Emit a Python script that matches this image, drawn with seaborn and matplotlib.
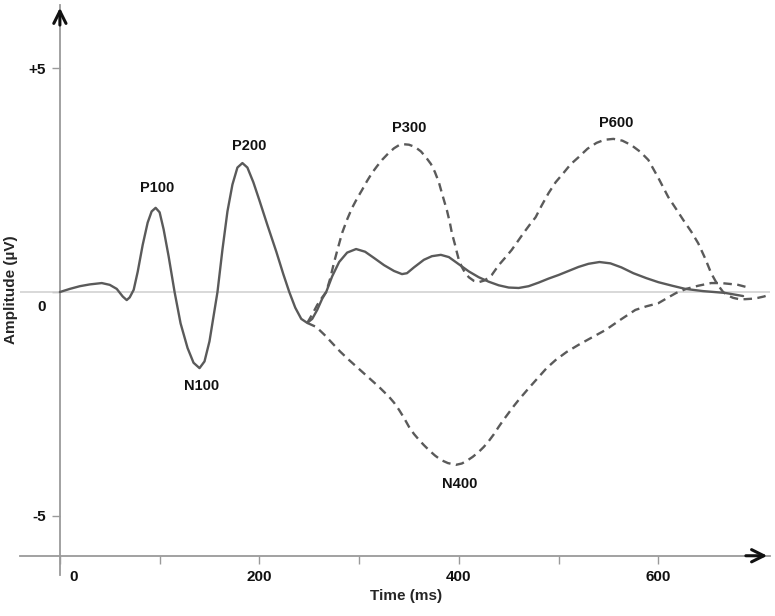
import numpy as np
import pandas as pd
import matplotlib
matplotlib.use("Agg")
import matplotlib.pyplot as plt
import matplotlib.transforms as mtransforms
import seaborn as sns

# ==========================================
# Data (time in ms, amplitude in microvolts)
# ==========================================

# standard ERP (solid)
erp_time = [0, 10, 20, 30, 42, 50, 57, 63, 67, 70, 74, 78, 83, 88, 92, 96,
            100, 104, 109, 115, 121, 128, 134, 140, 145, 150, 154, 158, 163,
            168, 173, 178, 183, 188, 194, 200, 208, 217, 224, 230, 236, 242,
            248, 253, 258, 263, 267, 273, 280, 288, 297, 306, 315, 325, 335,
            343, 348, 355, 365, 373, 382, 390, 400, 410, 420, 430, 440, 450,
            460, 470, 480, 490, 500, 510, 520, 530, 541, 552, 563, 575, 588,
            600, 614, 627, 645, 667, 685]
erp_amp = [0.0, 0.07, 0.13, 0.17, 0.20, 0.16, 0.07, -0.10, -0.18, -0.12,
           0.05, 0.45, 1.05, 1.55, 1.80, 1.88, 1.78, 1.40, 0.80, 0.0, -0.70,
           -1.25, -1.58, -1.70, -1.55, -1.10, -0.55, 0.0, 0.95, 1.80, 2.40,
           2.78, 2.88, 2.78, 2.45, 2.05, 1.50, 0.90, 0.40, 0.0, -0.35, -0.60,
           -0.69, -0.60, -0.40, -0.15, 0.0, 0.35, 0.67, 0.88, 0.96, 0.90,
           0.76, 0.60, 0.47, 0.40, 0.42, 0.55, 0.72, 0.80, 0.83, 0.78, 0.62,
           0.46, 0.33, 0.23, 0.15, 0.10, 0.09, 0.13, 0.21, 0.30, 0.38, 0.47,
           0.56, 0.63, 0.67, 0.64, 0.55, 0.42, 0.31, 0.22, 0.14, 0.07, 0.02,
           -0.02, -0.09]

# P300 / P600 (dashed, upper)
p3_time = [248, 253, 258, 263, 267, 271, 275, 279, 283, 288, 293, 298, 303,
           308, 313, 318, 323, 329, 335, 340, 345, 350, 356, 362, 367, 372,
           376, 380, 383, 386, 388, 391, 393, 396, 398, 400, 403, 406, 410,
           415, 420, 426, 433, 440, 447, 453, 459, 465, 471, 477, 483, 490,
           497, 505, 512, 520, 529, 538, 546, 555, 564, 573, 582, 590, 600,
           610, 618, 625, 633, 640, 647, 653, 659, 665, 670, 675, 681, 687,
           694, 700, 706, 710]
p3_amp = [-0.69, -0.50, -0.29, -0.12, 0.0, 0.30, 0.67, 1.00, 1.32, 1.62,
          1.88, 2.09, 2.28, 2.48, 2.66, 2.81, 2.95, 3.09, 3.21, 3.28, 3.30,
          3.29, 3.24, 3.14, 3.01, 2.86, 2.68, 2.45, 2.21, 1.98, 1.83, 1.55,
          1.32, 1.07, 0.89, 0.72, 0.56, 0.44, 0.33, 0.25, 0.22, 0.26, 0.38,
          0.60, 0.78, 0.94, 1.13, 1.32, 1.50, 1.67, 1.93, 2.21, 2.45, 2.66,
          2.85, 3.01, 3.20, 3.33, 3.40, 3.42, 3.38, 3.28, 3.13, 2.95, 2.55,
          2.12, 1.85, 1.61, 1.35, 1.09, 0.75, 0.42, 0.18, 0.0, -0.08, -0.13,
          -0.16, -0.16, -0.15, -0.13, -0.10, -0.07]

# N400 (dashed, lower)
n4_time = [248, 257, 265, 273, 281, 290, 300, 310, 320, 330, 335, 340, 345,
           350, 355, 360, 365, 370, 376, 382, 389, 397, 403, 408, 414, 420,
           425, 430, 435, 440, 445, 450, 455, 460, 470, 480, 488, 497, 508,
           520, 533, 547, 562, 577, 588, 600, 610, 618, 628, 640, 653, 663,
           672, 680, 692]
n4_amp = [-0.69, -0.78, -0.95, -1.14, -1.33, -1.52, -1.72, -1.92, -2.12,
          -2.34, -2.47, -2.63, -2.81, -3.01, -3.17, -3.30, -3.42, -3.53,
          -3.65, -3.75, -3.82, -3.86, -3.83, -3.77, -3.68, -3.57, -3.46,
          -3.33, -3.18, -3.01, -2.85, -2.70, -2.55, -2.41, -2.15, -1.90,
          -1.70, -1.52, -1.34, -1.18, -1.02, -0.85, -0.62, -0.40, -0.32,
          -0.25, -0.12, -0.02, 0.07, 0.14, 0.20, 0.20, 0.18, 0.16, 0.09]

peak_names = ["P100", "N100", "P200", "P300", "N400", "P600"]
peak_time = [97, 142, 190, 350, 401, 558]
peak_amp = [2.33, -2.09, 3.26, 3.67, -4.28, 3.78]

x_ticks = [0, 100, 200, 300, 400, 500, 600]
x_tick_labels = ["0", "", "200", "", "400", "", "600"]
y_ticks = [5, 0, -5]
y_tick_labels = ["+5", "0", "-5"]

# ==========================================
# Figure
# ==========================================

sns.set_style("white")
plt.rcParams["font.family"] = ["Liberation Sans", "DejaVu Sans"]

fig = plt.figure(figsize=(7.75, 6.16), dpi=100)
ax = fig.add_axes([20 / 775, 41 / 616, 750 / 775, 570 / 616])
ax.set_xlim(-40, 712)
ax.set_ylim(-6.32, 6.41)

line_col = "#5a5a5a"
axis_col = "#9a9a9a"
dash = (0, (3.6, 2.3))

# zero reference line
ax.axhline(0, color="#d2d2d2", lw=1.2, zorder=1)

sns.lineplot(x=erp_time, y=erp_amp, ax=ax, sort=False, color=line_col,
             lw=1.7, zorder=3)
sns.lineplot(x=p3_time, y=p3_amp, ax=ax, sort=False, color=line_col,
             lw=1.7, linestyle=dash, zorder=3)
sns.lineplot(x=n4_time, y=n4_amp, ax=ax, sort=False, color=line_col,
             lw=1.7, linestyle=dash, zorder=3)

for name, t, a in zip(peak_names, peak_time, peak_amp):
    ax.text(t, a, name, ha="center", va="center", fontsize=10.5,
            fontweight="bold", color="#111111")

# ==========================================
# Axes with arrows
# ==========================================

for s in ["top", "right"]:
    ax.spines[s].set_visible(False)
ax.spines["left"].set_position(("data", 0))
ax.spines["bottom"].set_position(("data", -5.89))
for s in ["left", "bottom"]:
    ax.spines[s].set_color(axis_col)
    ax.spines[s].set_linewidth(1.3)

ax.annotate("", xy=(0, 6.41), xytext=(0, 5.9),
            arrowprops=dict(arrowstyle="->", color="#111111", lw=2.2,
                            mutation_scale=22))
ax.annotate("", xy=(712, -5.89), xytext=(685, -5.89),
            arrowprops=dict(arrowstyle="->", color="#111111", lw=2.2,
                            mutation_scale=22))

ax.set_xticks(x_ticks)
ax.set_xticklabels(x_tick_labels)
ax.set_yticks(y_ticks)
ax.set_yticklabels(y_tick_labels)
ax.tick_params(axis="both", length=6, width=1, color=axis_col,
               labelsize=11, direction="out", bottom=True, left=True,
               pad=4)
for lbl in ax.get_xticklabels() + ax.get_yticklabels():
    lbl.set_fontweight("bold")
    lbl.set_color("#111111")

# the "0" labels sit a little off their ticks in the original
x0 = ax.get_xticklabels()[0]
x0.set_transform(x0.get_transform() +
                 mtransforms.ScaledTranslation(14 / 100, 0, fig.dpi_scale_trans))
y0 = ax.get_yticklabels()[1]
y0.set_transform(y0.get_transform() +
                 mtransforms.ScaledTranslation(0, -13 / 100, fig.dpi_scale_trans))

ax.set_xlabel("Time (ms)", fontsize=11, fontweight="bold")
ax.set_ylabel("Amplitude (µV)", fontsize=11, fontweight="bold")
ax.yaxis.set_label_coords(-0.002, 0.5)
ax.xaxis.set_label_coords(0.515, -0.025)

plt.savefig("out.png", dpi=100)
